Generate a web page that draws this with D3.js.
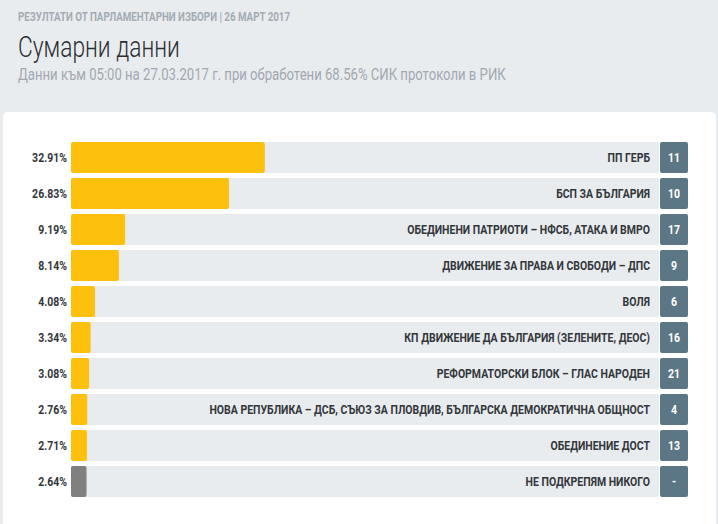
<!DOCTYPE html>
<html>
<head>
<meta charset="utf-8">
<script src="https://cdnjs.cloudflare.com/ajax/libs/d3/7.8.5/d3.min.js"></script>
<style>
  html, body { margin: 0; padding: 0; background: #e9ecef; }
  svg { display: block; font-family: Roboto, sans-serif; }
</style>
</head>
<body>
<div id="chart"></div>
<script>
// Data.
var parties = [
  'ПП ГЕРБ',
  'БСП ЗА БЪЛГАРИЯ',
  'ОБЕДИНЕНИ ПАТРИОТИ – НФСБ, АТАКА И ВМРО',
  'ДВИЖЕНИЕ ЗА ПРАВА И СВОБОДИ – ДПС',
  'ВОЛЯ',
  'КП ДВИЖЕНИЕ ДА БЪЛГАРИЯ (ЗЕЛЕНИТЕ, ДЕОС)',
  'РЕФОРМАТОРСКИ БЛОК – ГЛАС НАРОДЕН',
  'НОВА РЕПУБЛИКА – ДСБ, СЪЮЗ ЗА ПЛОВДИВ, БЪЛГАРСКА ДЕМОКРАТИЧНА ОБЩНОСТ',
  'ОБЕДИНЕНИЕ ДОСТ',
  'НЕ ПОДКРЕПЯМ НИКОГО'
];
var percents = [32.91, 26.83, 9.19, 8.14, 4.08, 3.34, 3.08, 2.76, 2.71, 2.64];
var ballotNumbers = ['11', '10', '17', '9', '6', '16', '21', '4', '13', '-'];

var kicker = 'РЕЗУЛТАТИ ОТ ПАРЛАМЕНТАРНИ ИЗБОРИ | 26 МАРТ 2017';
var title = 'Сумарни данни';
var subtitle = 'Данни към 05:00 на 27.03.2017 г. при обработени 68.56% СИК протоколи в РИК';

var width = 718, height = 524;

var svg = d3.select('#chart')
            .append('svg')
            .attr('width', width)
            .attr('height', height);

// Header background and the white panel.
svg.append('rect')
   .attr('width', width)
   .attr('height', height)
   .attr('fill', '#e9ecef');

svg.append('rect')
   .attr('x', 3)
   .attr('y', 112)
   .attr('width', 713)
   .attr('height', 430)
   .attr('rx', 5)
   .attr('fill', '#ffffff');

// Roboto squeezed sideways to look like the condensed face of the original.
function addText(x, y, str, size, weight, color, anchor, squeeze) {
  squeeze = typeof squeeze !== 'undefined' ? squeeze : 0.84;
  return svg.append('g')
     .attr('transform', 'translate(' + x + ',' + y + ') scale(' + squeeze + ',1)')
     .append('text')
     .attr('text-anchor', anchor || 'start')
     .attr('font-size', size)
     .attr('font-weight', weight)
     .attr('fill', color)
     .text(str);
}

addText(18, 21, kicker, 12, 700, '#a3abb3', 'start', 0.815);
addText(18, 56.5, title, 29, 300, '#2b2f33', 'start', 0.785);
addText(18, 80, subtitle, 16, 400, '#a0a8b0', 'start', 0.82);

// Scales.
var rows = d3.range(parties.length);
var y = d3.scaleBand()
          .domain(rows)
          .range([142, 497])
          .paddingInner(5 / 36)
          .paddingOuter(0);

var x = d3.scaleLinear()
          .domain([0, 100])
          .range([71, 660]);

var trackEnd = 659, boxX = 660, boxW = 28;

var row = svg.selectAll('g.row')
             .data(rows)
             .enter()
             .append('g')
             .attr('class', 'row');

// Grey track.
row.append('rect')
   .attr('x', x(0))
   .attr('y', function(i) { return y(i); })
   .attr('width', trackEnd - x(0))
   .attr('height', y.bandwidth())
   .attr('rx', 2)
   .attr('fill', '#e9ecef');

// Value bar.
row.append('rect')
   .attr('x', x(0))
   .attr('y', function(i) { return y(i); })
   .attr('width', function(i) { return x(percents[i]) - x(0); })
   .attr('height', y.bandwidth())
   .attr('rx', 2)
   .attr('fill', function(i) { return ballotNumbers[i] === '-' ? '#808080' : '#fdc00c'; });

// Ballot number box.
row.append('rect')
   .attr('x', boxX)
   .attr('y', function(i) { return y(i); })
   .attr('width', boxW)
   .attr('height', y.bandwidth())
   .attr('rx', 2)
   .attr('fill', '#5b7684');

rows.forEach(function(i) {
  var cy = y(i) + y.bandwidth() / 2 + 4.5;
  addText(67, cy, percents[i].toFixed(2) + '%', 12.5, 700, '#33373b', 'end');
  addText(650, cy, parties[i], 12.5, 700, '#33373b', 'end');
  addText(boxX + boxW / 2, cy, ballotNumbers[i], 12.5, 700, '#ffffff', 'middle');
});
</script>
</body>
</html>
